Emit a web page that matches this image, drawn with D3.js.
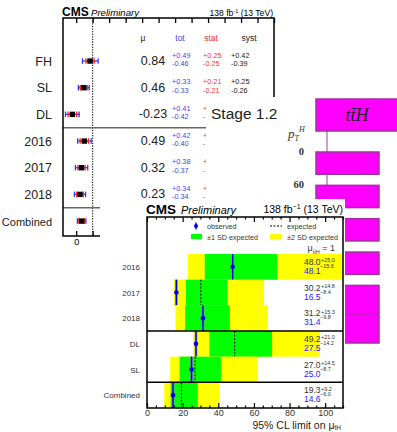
<!DOCTYPE html>
<html>
<head>
<meta charset="utf-8">
<script src="https://d3js.org/d3.v7.min.js"></script>
<style>
body { margin: 0; background: #fff; }
svg { display: block; font-family: "Liberation Sans", Arial, sans-serif; }
</style>
</head>
<body>
<svg width="397" height="432"></svg>
<script>
// ---- signal strength summary (left panel)
var muRows = ["FH", "SL", "DL", "2016", "2017", "2018", "Combined"];
var muVal  = [0.84, 0.46, -0.23, 0.49, 0.32, 0.23, 0.33];
var totUp  = [0.49, 0.33, 0.41, 0.42, 0.38, 0.34, 0.26];
var totDn  = [0.46, 0.33, 0.42, 0.40, 0.37, 0.34, 0.26];
var statUp = [0.25, 0.21, 0.26, 0.25, 0.22, 0.20, 0.17];
var statDn = [0.25, 0.21, 0.26, 0.25, 0.22, 0.20, 0.17];
var systUp = [0.42, 0.25, 0.32, 0.34, 0.30, 0.27, 0.21];
var systDn = [0.39, 0.26, 0.33, 0.32, 0.30, 0.28, 0.20];

// ---- STXS stage 1.2 boxes
var stxsBins = ["0", "60", "120", "200", "300", "450"];

// ---- tH limits (bottom panel)
var limRows = ["2016", "2017", "2018", "DL", "SL", "Combined"];
var limExp  = [48.0, 30.2, 31.2, 49.2, 27.0, 19.3];
var limObs  = [48.1, 16.5, 31.4, 27.5, 25.0, 14.6];
var exp1Up  = [25.0, 14.8, 15.3, 21.0, 14.5, 9.2];
var exp1Dn  = [15.6, 8.4, 9.8, 14.2, 8.7, 6.0];
var exp2Lo  = [23.0, 15.2, 16.0, 26.0, 13.0, 9.7];
var exp2Hi  = [125.0, 65.7, 67.8, 97.0, 62.0, 40.6];
var limTicks = [0, 20, 40, 60, 80, 100];

var svg = d3.select("svg");
svg.append("rect").attr("width", 397).attr("height", 432).attr("fill", "#fff");

function num(v) { return (v < 0 ? "-" : "") + Math.abs(v).toFixed(2); }
function fmtUp(v) { return "+" + v.toFixed(2); }
function fmtDn(v) { return "-" + v.toFixed(2); }

// the stage-1.2 sheet covers the left panel from here on
var coverX = 206, coverY = 97;

// ================= left panel =================
var xL = d3.scaleLinear().domain([-0.8, 12]).range([63, 274]);
var yL = d3.scaleBand().domain(muRows).range([47.7, 234.4]);
var L = svg.append("g");
var top0 = 18, bot0 = 236;

L.append("text").attr("x", 62).attr("y", 16).attr("font-weight", "bold").attr("font-size", 12).text("CMS");
L.append("text").attr("x", 91).attr("y", 16).attr("font-style", "italic").attr("font-size", 9.6).text("Preliminary");
L.append("text").attr("x", 273).attr("y", 16).attr("text-anchor", "end").attr("font-size", 8.6)
  .html('138 fb<tspan dy="-3" font-size="5.5">-1</tspan><tspan dy="3"> (13 TeV)</tspan>');

L.append("g").attr("transform", "translate(0," + top0 + ")")
  .call(d3.axisTop(xL).tickValues(d3.range(0, 13)).tickSize(-5).tickFormat(""))
  .call(function(g) { g.select(".domain").remove(); g.selectAll("line").attr("stroke-width", 1.3); });
// only the "0" label is left uncovered by the other sheets
L.append("g").attr("transform", "translate(0," + bot0 + ")")
  .call(d3.axisBottom(xL).tickValues(d3.range(0, 13)).tickSize(-5).tickPadding(3)
    .tickFormat(function(d) { return d === 0 ? "0" : ""; }))
  .call(function(g) {
    g.select(".domain").remove();
    g.selectAll("line").attr("stroke-width", 1.3);
    g.selectAll("text").attr("font-size", 9).attr("font-family", "Liberation Sans, Arial, sans-serif");
  });

// SM line
L.append("line").attr("x1", xL(1)).attr("x2", xL(1)).attr("y1", top0).attr("y2", bot0)
  .attr("stroke", "#000").attr("stroke-width", 1).attr("stroke-dasharray", "1.3,1.3");

// separators
[muRows[3], muRows[6]].forEach(function(r) {
  L.append("line").attr("x1", xL.range()[0]).attr("x2", xL.range()[1])
    .attr("y1", yL(r)).attr("y2", yL(r)).attr("stroke", "#666").attr("stroke-width", 1.5);
});

L.append("rect").attr("x", xL.range()[0]).attr("y", top0)
  .attr("width", xL.range()[1] - xL.range()[0]).attr("height", bot0 - top0)
  .attr("fill", "none").attr("stroke", "#000").attr("stroke-width", 1.5);

// headers
var hdr = [["μ", 143, "#222"], ["tot", 180, "#4444ff"], ["stat", 211, "#ff3333"], ["syst", 249, "#222"]];
hdr.forEach(function(h) {
  L.append("text").attr("x", h[1]).attr("y", 41).attr("text-anchor", "middle")
    .attr("font-size", 8.5).attr("fill", h[2]).text(h[0]);
});

muRows.forEach(function(r, i) {
  var cy = yL(r) + yL.bandwidth() / 2;
  var v = muVal[i];
  L.append("text").attr("x", 52).attr("y", cy + 4.5).attr("text-anchor", "end")
    .attr("font-size", r === "Combined" ? 11 : 12.5).attr("fill", "#222").text(r);
  // total
  var tl = xL(v - totDn[i]), tr = xL(v + totUp[i]);
  L.append("line").attr("x1", tl).attr("x2", tr).attr("y1", cy).attr("y2", cy).attr("stroke", "#3535ff").attr("stroke-width", 1.3);
  [tl, tr].forEach(function(x) {
    L.append("line").attr("x1", x).attr("x2", x).attr("y1", cy - 2.8).attr("y2", cy + 2.8).attr("stroke", "#3535ff").attr("stroke-width", 1.3);
  });
  // stat
  var sl = xL(v - statDn[i]), sr = xL(v + statUp[i]);
  L.append("line").attr("x1", sl).attr("x2", sr).attr("y1", cy).attr("y2", cy).attr("stroke", "#ff2020").attr("stroke-width", 1.3);
  [sl, sr].forEach(function(x) {
    L.append("line").attr("x1", x).attr("x2", x).attr("y1", cy - 2.8).attr("y2", cy + 2.8).attr("stroke", "#ff2020").attr("stroke-width", 1.3);
  });
  L.append("rect").attr("x", xL(v) - 2.7).attr("y", cy - 2.7).attr("width", 5.4).attr("height", 5.4).attr("fill", "#000");

  // table (the Combined line sits under the limit plot)
  if (r === "Combined") return;
  var hidden = cy > coverY;
  L.append("text").attr("x", 153).attr("y", cy + 4).attr("text-anchor", "middle")
    .attr("font-size", 12.5).attr("fill", "#222").text(num(v));
  var cols = [[172, totUp[i], totDn[i], "#4444ff"], [203, statUp[i], statDn[i], "#ff3333"], [231, systUp[i], systDn[i], "#222"]];
  cols.forEach(function(c, k) {
    if (hidden && k === 2) return;
    var up = fmtUp(c[1]), dn = fmtDn(c[2]);
    // only the sign shows left of the covering sheet
    if (hidden && k === 1) { up = "+"; dn = "-"; }
    L.append("text").attr("x", c[0]).attr("y", cy - 3.5).attr("font-size", 7.3).attr("fill", c[3]).text(up);
    L.append("text").attr("x", c[0]).attr("y", cy + 5).attr("font-size", 7.3).attr("fill", c[3]).text(dn);
  });
});

// ================= stage 1.2 overlay =================
var S = svg.append("g");
S.append("rect").attr("x", coverX).attr("y", coverY).attr("width", 397 - coverX).attr("height", 432 - coverY).attr("fill", "#fff");
S.append("text").attr("x", 211).attr("y", 119).attr("font-size", 15.5).attr("fill", "#222").text("Stage 1.2");

var yS = d3.scaleBand().domain(stxsBins).range([152, 152 + 31.5 * 6]).paddingInner(0.333).paddingOuter(0);
var boxX0 = 316, boxX1 = 379, lineX = 327;
S.append("line").attr("x1", lineX).attr("x2", lineX).attr("y1", 131).attr("y2", 322)
  .attr("stroke", "#c47ac4").attr("stroke-width", 1.5);
S.append("rect").attr("x", boxX0).attr("y", 99).attr("width", 90).attr("height", 32)
  .attr("fill", "#ff00ff").attr("stroke", "#a0309f").attr("stroke-width", 1.5);
S.append("text").attr("x", 357).attr("y", 121).attr("text-anchor", "middle")
  .attr("font-family", "Liberation Serif, serif").attr("font-style", "italic").attr("font-size", 18).attr("fill", "#222")
  .text("tt̄H");
stxsBins.slice(0, 5).forEach(function(b, i) {
  var y0 = yS(b), h = yS.bandwidth();
  if (i === 4) h = yS.step() + yS.bandwidth() + 2;
  S.append("rect").attr("x", boxX0).attr("y", y0).attr("width", boxX1 - boxX0).attr("height", h)
    .attr("fill", "#ff00ff").attr("stroke", "#a0309f").attr("stroke-width", 1.5);
  if (i === 4) {
    S.append("line").attr("x1", boxX0).attr("x2", boxX1).attr("y1", y0 + h / 2).attr("y2", y0 + h / 2)
      .attr("stroke", "#a0309f").attr("stroke-width", 1).attr("stroke-dasharray", "3,2");
  }
  if (i < 2) {
    S.append("text").attr("x", 304).attr("y", y0 + 3).attr("text-anchor", "end")
      .attr("font-family", "Liberation Serif, serif").attr("font-weight", "bold").attr("font-size", 10.5).attr("fill", "#333").text(b);
  }
});
S.append("text").attr("x", 288).attr("y", 138).attr("font-family", "Liberation Serif, serif")
  .attr("font-style", "italic").attr("font-size", 13).attr("fill", "#333")
  .html('p<tspan dy="3" font-size="8">T</tspan><tspan dx="0" dy="-9" font-size="8">H</tspan>');

// ================= bottom panel: tH limits =================
var B = svg.append("g");
B.append("rect").attr("x", 100).attr("y", 199).attr("width", 245).attr("height", 233).attr("fill", "#fff");

var xB = d3.scaleLinear().domain([0, 110]).range([147, 343]);
var yB = d3.scaleBand().domain(limRows).range([254, 408]);
var top1 = 217, bot1 = 408;

B.append("text").attr("x", 146).attr("y", 213.5).attr("font-weight", "bold").attr("font-size", 13.5).text("CMS");
B.append("text").attr("x", 181).attr("y", 213.5).attr("font-style", "italic").attr("font-size", 11).text("Preliminary");
B.append("text").attr("x", 343).attr("y", 213).attr("text-anchor", "end").attr("font-size", 10.5)
  .html('138 fb<tspan dy="-4" font-size="7">−1</tspan><tspan dy="4"> (13 TeV)</tspan>');

limRows.forEach(function(r, i) {
  var y0 = yB(r), h = yB.bandwidth(), cy = y0 + h / 2;
  var hi2 = Math.min(exp2Hi[i], xB.domain()[1]);
  B.append("rect").attr("x", xB(exp2Lo[i])).attr("y", y0).attr("width", xB(hi2) - xB(exp2Lo[i])).attr("height", h).attr("fill", "#ffff00");
  B.append("rect").attr("x", xB(limExp[i] - exp1Dn[i])).attr("y", y0)
    .attr("width", xB(limExp[i] + exp1Up[i]) - xB(limExp[i] - exp1Dn[i])).attr("height", h).attr("fill", "#00ff00");
  B.append("line").attr("x1", xB(limExp[i])).attr("x2", xB(limExp[i])).attr("y1", y0).attr("y2", y0 + h)
    .attr("stroke", "#000").attr("stroke-width", 1).attr("stroke-dasharray", "2,1.5");
  B.append("line").attr("x1", xB(limObs[i])).attr("x2", xB(limObs[i])).attr("y1", y0).attr("y2", y0 + h)
    .attr("stroke", "#8a8ab0").attr("stroke-width", 2.6);
  B.append("line").attr("x1", xB(limObs[i])).attr("x2", xB(limObs[i])).attr("y1", y0).attr("y2", y0 + h)
    .attr("stroke", "#0000ee").attr("stroke-width", 1.4);
  B.append("circle").attr("cx", xB(limObs[i])).attr("cy", cy).attr("r", 2.3).attr("fill", "#0000ee");

  B.append("text").attr("x", 140).attr("y", cy + 3).attr("text-anchor", "end").attr("font-size", 8).attr("fill", "#333").text(r);

  B.append("text").attr("x", 304).attr("y", cy - 2).attr("font-size", 8.5).attr("fill", "#333").text(limExp[i].toFixed(1));
  B.append("text").attr("x", 304).attr("y", cy + 7).attr("font-size", 8.5).attr("fill", "#2222ff").text(limObs[i].toFixed(1));
  B.append("text").attr("x", 321).attr("y", cy - 4.5).attr("font-size", 5.5).attr("fill", "#333").text("+" + exp1Up[i].toFixed(1));
  B.append("text").attr("x", 320).attr("y", cy + 1).attr("font-size", 5.5).attr("fill", "#333").text("−" + exp1Dn[i].toFixed(1));
});

// separators
[limRows[3], limRows[5]].forEach(function(r) {
  B.append("line").attr("x1", xB.range()[0]).attr("x2", xB.range()[1])
    .attr("y1", yB(r)).attr("y2", yB(r)).attr("stroke", "#000").attr("stroke-width", 1.5);
});

// axes
function styleTicks(g) {
  g.select(".domain").remove();
  g.selectAll("line").attr("stroke-width", 1.2);
  g.selectAll("text").attr("font-size", 9).attr("fill", "#333").attr("font-family", "Liberation Sans, Arial, sans-serif");
}
var minor = d3.range(0, 111, 5).filter(function(d) { return d % 20; });
B.append("g").attr("transform", "translate(0," + top1 + ")")
  .call(d3.axisTop(xB).tickValues(limTicks).tickSize(-5).tickFormat("")).call(styleTicks);
B.append("g").attr("transform", "translate(0," + top1 + ")")
  .call(d3.axisTop(xB).tickValues(minor).tickSize(-2.5).tickFormat("")).call(styleTicks);
B.append("g").attr("transform", "translate(0," + bot1 + ")")
  .call(d3.axisBottom(xB).tickValues(limTicks).tickSize(-5).tickPadding(2)).call(styleTicks);
B.append("g").attr("transform", "translate(0," + bot1 + ")")
  .call(d3.axisBottom(xB).tickValues(minor).tickSize(-2.5).tickFormat("")).call(styleTicks);

B.append("rect").attr("x", xB.range()[0]).attr("y", top1)
  .attr("width", xB.range()[1] - xB.range()[0]).attr("height", bot1 - top1)
  .attr("fill", "none").attr("stroke", "#000").attr("stroke-width", 1.5);

B.append("text").attr("x", 341).attr("y", 428.5).attr("text-anchor", "end").attr("font-size", 10.5).attr("fill", "#222")
  .html('95% CL limit on μ<tspan dy="1.8" font-size="6.5">tH</tspan>');

// legend
var lg = B.append("g").attr("font-size", 7.2).attr("fill", "#333");
lg.append("line").attr("x1", 196).attr("x2", 196).attr("y1", 222.5).attr("y2", 229.5).attr("stroke", "#0000ee").attr("stroke-width", 1.4);
lg.append("circle").attr("cx", 196).attr("cy", 226).attr("r", 2).attr("fill", "#0000ee");
lg.append("text").attr("x", 207).attr("y", 228.5).text("observed");
lg.append("line").attr("x1", 270).attr("x2", 282).attr("y1", 226).attr("y2", 226).attr("stroke", "#000").attr("stroke-dasharray", "2,1.5");
lg.append("text").attr("x", 287).attr("y", 228.5).text("expected");
lg.append("rect").attr("x", 191).attr("y", 234).attr("width", 11).attr("height", 5).attr("fill", "#00ff00");
lg.append("text").attr("x", 207).attr("y", 240).text("±1 SD expected");
lg.append("rect").attr("x", 270).attr("y", 234).attr("width", 12).attr("height", 5).attr("fill", "#ffff00");
lg.append("text").attr("x", 287).attr("y", 240).text("±2 SD expected");
lg.append("text").attr("x", 335).attr("y", 251).attr("text-anchor", "end").attr("font-size", 9)
  .html('μ<tspan dy="2.5" font-size="5.5">tt̄H</tspan><tspan dy="-2.5"> = 1</tspan>');
</script>
</body>
</html>
